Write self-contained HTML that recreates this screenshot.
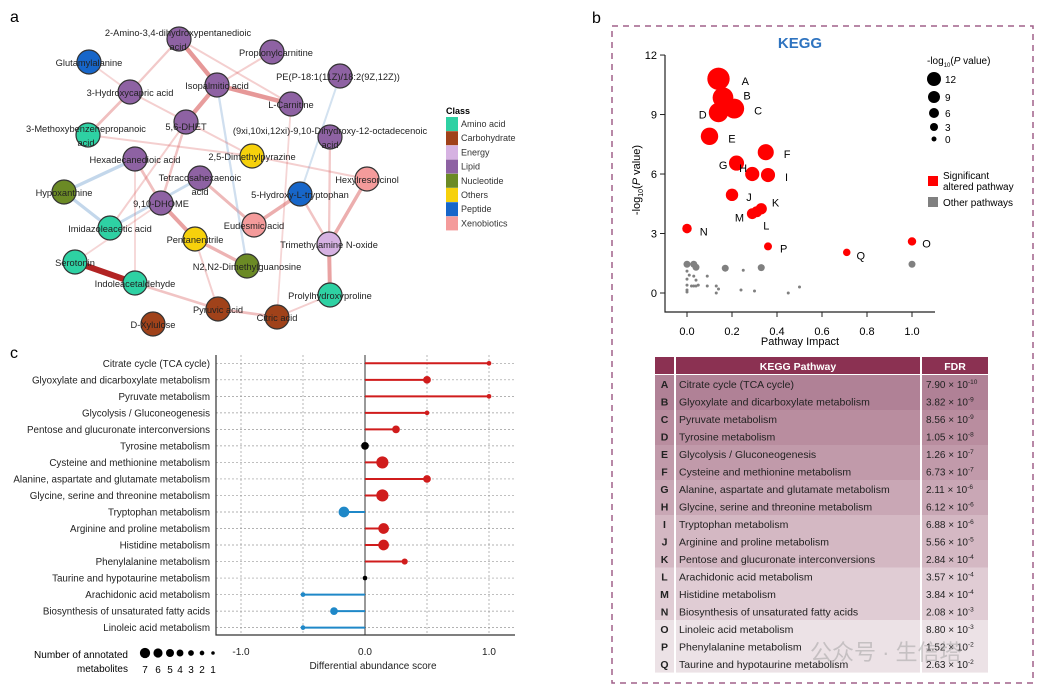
<!DOCTYPE html>
<html><head><meta charset="utf-8">
<style>
html,body{margin:0;padding:0;background:#fff;}
svg{display:block;font-family:"Liberation Sans",Arial,sans-serif;}
</style></head>
<body>
<svg id="fig" width="1049" height="693" viewBox="0 0 1049 693" xmlns="http://www.w3.org/2000/svg">
<text x="10" y="22" font-size="16">a</text>
<text x="592" y="23" font-size="16">b</text>
<text x="10" y="358" font-size="16">c</text>
<g id="net"></g>
<g id="kegg"></g>
<g id="lol"></g>
</svg>
<script>
const NS="http://www.w3.org/2000/svg";
function mk(parent,tag,attrs,text){const e=document.createElementNS(NS,tag);for(const k in attrs)e.setAttribute(k,attrs[k]);if(text!==undefined)e.textContent=text;parent.appendChild(e);return e;}

/* ---------- Panel a: network ---------- */
const classColors={amino:"#2ed1a3",carb:"#a0421a",energy:"#d6b2e2",lipid:"#8e62a3",nuc:"#6b8a25",others:"#f6d10c",peptide:"#1766c9",xeno:"#f49b9b"};
const nodeNames=["2-Amino-3,4-dihydroxypentanedioic|acid","Glutamylalanine","Propionylcarnitine","PE(P-18:1(11Z)/18:2(9Z,12Z))","3-Hydroxycapric acid","Isopalmitic acid","L-Carnitine","3-Methoxybenzenepropanoic|acid","5,6-DHET","(9xi,10xi,12xi)-9,10-Dihydroxy-12-octadecenoic|acid","Hexadecanedioic acid","2,5-Dimethylpyrazine","Hexylresorcinol","Tetracosahexaenoic|acid","Hypoxanthine","5-Hydroxy-L-tryptophan","9,10-DHOME","Imidazoleacetic acid","Eudesmic acid","Pentanenitrile","Trimethylamine N-oxide","Serotonin","N2,N2-Dimethylguanosine","Indoleacetaldehyde","Prolylhydroxyproline","Pyruvic acid","D-Xylulose","Citric acid"];
const nodeClass=["lipid","peptide","lipid","lipid","lipid","lipid","lipid","amino","lipid","lipid","lipid","others","xeno","lipid","nuc","peptide","lipid","amino","xeno","others","energy","amino","nuc","amino","amino","carb","carb","carb"];
const nodeX=[179,89,272,340,130,217,291,88,186,330,135,252,367,200,64,300,161,110,254,195,329,75,247,135,330,218,153,277];
const nodeY=[39,62,52,76,92,85,104,135,122,137,159,156,179,178,192,194,203,228,225,239,244,262,266,283,295,309,324,317];
const labelX=[178,89,276,338,130,217,291,86,186,330,135,252,367,200,64,300,161,110,254,195,329,75,247,135,330,218,153,277];
const labelY=[32,62,52,76,92,85,104,128,126,130,159,156,179,177,192,194,203,228,225,239,244,262,266,283,295,309,324,317];
const edgeFrom=[0,5,5,21,14,14,17,16,19,18,12,20,13,23,25,0,4,2,5,3,9,7,11,15,10,27,27,25,21,10,16,4,8,0,1];
const edgeTo=[5,6,8,23,10,17,13,19,22,15,20,24,18,25,27,4,7,5,22,15,20,11,12,20,23,6,24,19,16,16,8,11,17,6,4];
const edgeW=[0.7,0.7,0.65,1,0.45,0.45,0.35,0.6,0.45,0.5,0.5,0.6,0.4,0.3,0.35,0.25,0.35,0.2,0.25,0.2,0.25,0.2,0.2,0.3,0.15,0.15,0.2,0.2,0.15,0.35,0.3,0.2,0.2,0.2,0.15];
const edgeS=[1,1,1,1,-1,-1,-1,1,1,1,1,1,1,1,1,1,1,1,-1,-1,1,1,1,1,1,1,1,1,1,1,1,1,1,1,1];
const legendLabels=["Amino acid","Carbohydrate","Energy","Lipid","Nucleotide","Others","Peptide","Xenobiotics"];
const legendKeys=["amino","carb","energy","lipid","nuc","others","peptide","xeno"];

(function(){
 const g=document.getElementById('net');
 const eg=mk(g,'g',{});
 
 for(let i=0;i<edgeFrom.length;i++){
  const a=edgeFrom[i],b=edgeTo[i],w=edgeW[i];
  let col;
  if(edgeS[i]>0){col=w>=0.95?"#b22424":`rgba(214,84,84,${0.15+0.65*w})`;}else{col=`rgba(150,185,220,${0.3+0.6*w})`;}
  const l=mk(eg,'line',{x1:nodeX[a],y1:nodeY[a],x2:nodeX[b],y2:nodeY[b],stroke:col,'stroke-width':(1+5*w).toFixed(1),'stroke-linecap':'round'});
  
  
 }
 const ng=mk(g,'g',{});
 for(let i=0;i<nodeNames.length;i++){
  const c=mk(ng,'circle',{cx:nodeX[i],cy:nodeY[i],r:12,fill:classColors[nodeClass[i]],stroke:'#333','stroke-width':1.2});
  
  
 }
 for(let i=0;i<nodeNames.length;i++){
  const parts=nodeNames[i].split('|');
  parts.forEach((p,j)=>{
   const t=mk(ng,'text',{x:labelX[i],y:labelY[i]+4+j*14,'font-size':9.3,'text-anchor':'middle',fill:'#222'},p);
   
   
  });
 }
 const lg=mk(g,'g',{});
 
 mk(lg,'text',{x:446,y:114,'font-size':9,'font-weight':'bold'},'Class');
 legendLabels.forEach((lab,i)=>{
  const r=mk(lg,'rect',{x:446,y:117+i*14.2,width:12,height:14,fill:classColors[legendKeys[i]]});
  
  
  const t=mk(lg,'text',{x:461,y:127+i*14.2,'font-size':9,fill:'#333'},lab);
  
  
 });
})();

/* ---------- Panel b: KEGG scatter ---------- */
const sigLetters=["A","B","C","D","E","F","G","H","I","J","K","L","M","N","O","P","Q"];
const sigImpact=[0.14,0.16,0.21,0.14,0.10,0.35,0.22,0.29,0.36,0.20,0.33,0.31,0.29,0.0,1.0,0.36,0.71];
const sigLogP=[10.8,9.85,9.3,9.1,7.9,7.1,6.55,6.0,5.95,4.95,4.25,4.1,4.0,3.25,2.6,2.35,2.05];
const otherImpact=[0,0.03,0.04,0.17,0.33,1.0,0,0.01,0.03,0,0.04,0.09,0.25,0,0.04,0.05,0.02,0.09,0.13,0.14,0,0.13,0.24,0.3,0,0.45,0.5,0.03];
const otherLogP=[1.45,1.45,1.3,1.25,1.28,1.45,1.1,0.9,0.85,0.7,0.65,0.85,1.15,0.4,0.35,0.4,0.35,0.35,0.35,0.2,0.15,0.0,0.15,0.1,0.05,0.0,0.3,0.35];
const xTicksB=[0.0,0.2,0.4,0.6,0.8,1.0];
const yTicksB=[0,3,6,9,12];
const sizeLegend=[12,9,6,3,0];
const tableFDR=[["7.90","-10"],["3.82","-9"],["8.56","-9"],["1.05","-8"],["1.26","-7"],["6.73","-7"],["2.11","-6"],["6.12","-6"],["6.88","-6"],["5.56","-5"],["2.84","-4"],["3.57","-4"],["3.84","-4"],["2.08","-3"],["8.80","-3"],["1.52","-2"],["2.63","-2"]];
const tableNames=["Citrate cycle (TCA cycle)","Glyoxylate and dicarboxylate metabolism","Pyruvate metabolism","Tyrosine metabolism","Glycolysis / Gluconeogenesis","Cysteine and methionine metabolism","Alanine, aspartate and glutamate metabolism","Glycine, serine and threonine metabolism","Tryptophan metabolism","Arginine and proline metabolism","Pentose and glucuronate interconversions","Arachidonic acid metabolism","Histidine metabolism","Biosynthesis of unsaturated fatty acids","Linoleic acid metabolism","Phenylalanine metabolism","Taurine and hypotaurine metabolism"];

(function(){
 const g=document.getElementById('kegg');
 const box=mk(g,'rect',{x:612,y:26,width:421,height:657,fill:'none',stroke:'#a0608a','stroke-width':1.5,'stroke-dasharray':'6,5'});
 
 const xs=v=>687+v*225, ys=v=>293-v*19.83;
 const rad=v=>2+v*0.85;
 const t=mk(g,'text',{x:800,y:48,'font-size':15,'font-weight':'bold',fill:'#2f74c0','text-anchor':'middle'},'KEGG');
 
 const ax=mk(g,'path',{d:'M665,55 V312 H935',fill:'none',stroke:'#222','stroke-width':1.2});
 
 yTicksB.forEach(v=>{mk(g,'line',{x1:660,x2:665,y1:ys(v),y2:ys(v),stroke:'#222'});
  const tt=mk(g,'text',{x:657,y:ys(v)+4,'font-size':11,'text-anchor':'end'},String(v));
  });
 xTicksB.forEach(v=>{mk(g,'line',{x1:xs(v),x2:xs(v),y1:312,y2:317,stroke:'#222'});
  const tt=mk(g,'text',{x:xs(v),y:335,'font-size':11,'text-anchor':'middle'},v.toFixed(1));
  });
 const xl=mk(g,'text',{x:800,y:345,'font-size':11,'text-anchor':'middle'},'Pathway Impact');
 
 const yl=mk(g,'text',{transform:'translate(640,180) rotate(-90)','font-size':11,'text-anchor':'middle'});
 yl.innerHTML='-log<tspan font-size="7" dy="3">10</tspan><tspan dy="-3">(</tspan><tspan font-style="italic">P</tspan> value)';
 
 otherImpact.forEach((v,i)=>{const r=otherLogP[i]>1.2?3.5:1.5;
  const c=mk(g,'circle',{cx:xs(v),cy:ys(otherLogP[i]),r:r,fill:'#808080'});
  });
 const lo={A:[12,2],B:[10,-2],C:[10,2],D:[-10,2],E:[10,2],F:[10,2],G:[-10,2],H:[-6,-6],I:[10,2],J:[8,2],K:[5,-6],L:[1,14],M:[-12,4],N:[8,3],O:[6,2],P:[8,2],Q:[6,3]};
 sigLetters.forEach((L,i)=>{const cx=xs(sigImpact[i]),cy=ys(sigLogP[i]);
  const c=mk(g,'circle',{cx:cx,cy:cy,r:rad(sigLogP[i]),fill:'#ff0000'});
  
  const o=lo[L];const tt=mk(g,'text',{x:cx+rad(sigLogP[i])+o[0]-(o[0]<0?rad(sigLogP[i])*2:0),y:cy+4+o[1],'font-size':11},L);
  });
 const lt=mk(g,'text',{x:927,y:64,'font-size':10});
 lt.innerHTML='-log<tspan font-size="6" dy="3">10</tspan><tspan dy="-3">(</tspan><tspan font-style="italic">P</tspan> value)';
 
 const ly=[79,97,113,127,139];
 sizeLegend.forEach((v,i)=>{const c=mk(g,'circle',{cx:934,cy:ly[i],r:[7,6,5,4,2.5][i],fill:'#000'});
  
  const tt=mk(g,'text',{x:945,y:ly[i]+4,'font-size':10},String(v));
  });
 const s1=mk(g,'rect',{x:928,y:176,width:10,height:10,fill:'#ff0000'});
 
 mk(g,'text',{x:943,y:179,'font-size':10},'Significant');
 mk(g,'text',{x:943,y:190,'font-size':10},'altered pathway');
 const s2=mk(g,'rect',{x:928,y:197,width:10,height:10,fill:'#808080'});
 
 mk(g,'text',{x:943,y:206,'font-size':10},'Other pathways');
 const tg=mk(g,'g',{});
 
 mk(tg,'rect',{x:655,y:357,width:19,height:17,fill:'#8b3152'});
 mk(tg,'rect',{x:676,y:357,width:244,height:17,fill:'#8b3152'});
 mk(tg,'rect',{x:922,y:357,width:66,height:17,fill:'#8b3152'});
 mk(tg,'text',{x:798,y:370,'font-size':10.5,'font-weight':'bold',fill:'#fff','text-anchor':'middle'},'KEGG Pathway');
 mk(tg,'text',{x:955,y:370,'font-size':10.5,'font-weight':'bold',fill:'#fff','text-anchor':'middle'},'FDR');
 const rowCols=['#b08196','#b08196','#b98d9f','#b98d9f','#c19aaa','#c19aaa','#c9a7b5','#c9a7b5','#d4b8c3','#d4b8c3','#d4b8c3','#e0ccd4','#e0ccd4','#e0ccd4','#ece2e6','#ece2e6','#ece2e6'];
 tableNames.forEach((n,i)=>{const y=375+i*17.5;
  [[655,19],[676,244],[922,66]].forEach(([x,w])=>mk(tg,'rect',{x:x,y:y,width:w,height:17.6,fill:rowCols[i]}));
  const r1=mk(tg,'text',{x:664.5,y:y+13,'font-size':10.5,'font-weight':'bold','text-anchor':'middle',fill:'#222'},sigLetters[i]);
  
  const r2=mk(tg,'text',{x:679,y:y+13,'font-size':10.5,fill:'#222'},n);
  
  const r3=mk(tg,'text',{x:926,y:y+13,'font-size':10,fill:'#222'});
  r3.innerHTML=tableFDR[i][0]+' × 10<tspan font-size="6.5" dy="-4">'+tableFDR[i][1]+'</tspan>';
  });
 const wm=mk(g,'text',{x:810,y:660,'font-size':22,fill:'rgba(150,150,150,0.45)','font-family':'"Liberation Sans","Noto Sans CJK SC",sans-serif'},'公众号 · 生信塔');
 
})();

/* ---------- Panel c: lollipop ---------- */
const pathways=["Citrate cycle (TCA cycle)","Glyoxylate and dicarboxylate metabolism","Pyruvate metabolism","Glycolysis / Gluconeogenesis","Pentose and glucuronate interconversions","Tyrosine metabolism","Cysteine and methionine metabolism","Alanine, aspartate and glutamate metabolism","Glycine, serine and threonine metabolism","Tryptophan metabolism","Arginine and proline metabolism","Histidine metabolism","Phenylalanine metabolism","Taurine and hypotaurine metabolism","Arachidonic acid metabolism","Biosynthesis of unsaturated fatty acids","Linoleic acid metabolism"];
const daScore=[1.0,0.5,1.0,0.5,0.25,0,0.14,0.5,0.14,-0.17,0.15,0.15,0.32,0,-0.5,-0.25,-0.5];
const nMetab=[1,3,1,1,3,3,6,3,6,5,5,5,2,1,1,3,1];
const xTicksC=[-1.0,0.0,1.0];
const sizeKey=[7,6,5,4,3,2,1];

(function(){
 const g=document.getElementById('lol');
 const xs=v=>365+v*124, ys=i=>363.3+i*16.52;
 const rad=n=>1.6+n*0.75;
 [-1,-0.5,0.5,1].forEach(v=>{const l=mk(g,'line',{x1:xs(v),x2:xs(v),y1:355,y2:635,stroke:'#999','stroke-width':0.7,'stroke-dasharray':'2,2'});
  });
 pathways.forEach((p,i)=>{const l=mk(g,'line',{x1:216,x2:515,y1:ys(i),y2:ys(i),stroke:'#999','stroke-width':0.7,'stroke-dasharray':'2,2'});
  
  const t=mk(g,'text',{x:210,y:ys(i)+3.5,'font-size':9.8,'text-anchor':'end',fill:'#222'},p);
  });
 mk(g,'line',{x1:xs(0),x2:xs(0),y1:355,y2:635,stroke:'#333','stroke-width':1});
 const ax=mk(g,'path',{d:'M216,355 V635 H515',fill:'none',stroke:'#333','stroke-width':1.2});
 
 daScore.forEach((v,i)=>{const col=v>0?'#d01c1c':(v<0?'#1f88c8':'#000');
  if(v!==0){const l=mk(g,'line',{x1:xs(0),x2:xs(v),y1:ys(i),y2:ys(i),stroke:col,'stroke-width':2});
   }
  const c=mk(g,'circle',{cx:xs(v),cy:ys(i),r:rad(nMetab[i]),fill:col});
  });
 xTicksC.forEach(v=>{const t=mk(g,'text',{x:xs(v),y:655,'font-size':10,'text-anchor':'middle',fill:'#222'},v.toFixed(1));
  });
 const xt=mk(g,'text',{x:373,y:669,'font-size':10,'text-anchor':'middle',fill:'#222'},'Differential abundance score');
 
 mk(g,'text',{x:128,y:658,'font-size':10,'text-anchor':'end'},'Number of annotated');
 mk(g,'text',{x:128,y:672,'font-size':10,'text-anchor':'end'},'metabolites');
 const lx=[145,158,170,180,191,202,213];
 sizeKey.forEach((n,i)=>{const c=mk(g,'circle',{cx:lx[i],cy:653,r:rad(n)*0.75,fill:'#000'});
  
  const t=mk(g,'text',{x:lx[i],y:673,'font-size':10,'text-anchor':'middle'},String(n));
  });
})();
</script>
</body></html>
